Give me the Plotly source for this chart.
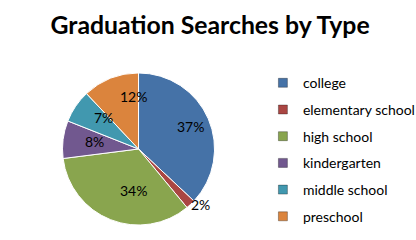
import math
import plotly.graph_objects as go

categories = ["college", "elementary school", "high school", "kindergarten", "middle school", "preschool"]
values = [37, 2, 34, 8, 7, 12]
colors = ["#4572A7", "#AA4643", "#89A54E", "#71588F", "#4198AF", "#DB843D"]
label_outside = [False, True, False, False, False, False]

W, H = 416, 240
dom_x = [0.150, 0.516]
dom_y = [0.0625, 0.696]

fig = go.Figure()
fig.add_trace(go.Pie(
    labels=categories, values=values, sort=False, direction="clockwise", rotation=0,
    marker=dict(colors=colors, line=dict(color="white", width=1)),
    textinfo="none", hoverinfo="label+percent",
    showlegend=False,
    domain=dict(x=dom_x, y=dom_y),
))
for c, col in zip(categories, colors):
    fig.add_trace(go.Scatter(
        x=[None], y=[None], mode="markers", name=c, legendgroup=c,
        marker=dict(symbol="square", size=9, color=col, line=dict(color="rgba(0,0,0,0.3)", width=1)),
    ))

# percentage labels placed along each slice's mid-angle
cx = (dom_x[0] + dom_x[1]) / 2
cy = (dom_y[0] + dom_y[1]) / 2
r_px = min((dom_x[1] - dom_x[0]) * W, (dom_y[1] - dom_y[0]) * H) / 2
total = sum(values)
cum = 0
annotations = []
for v, out in zip(values, label_outside):
    theta = 2 * math.pi * (cum + v / 2) / total
    cum += v
    f = 1.2 if out else 0.74
    annotations.append(dict(
        x=cx + f * r_px * math.sin(theta) / W,
        y=cy + f * r_px * math.cos(theta) / H,
        xref="paper", yref="paper", showarrow=False,
        text=f"{round(100 * v / total)}%",
        font=dict(family="Lato", size=14, color="black"),
    ))

fig.update_layout(
    width=W, height=H,
    margin=dict(l=0, r=0, t=0, b=0, autoexpand=False),
    paper_bgcolor="white", plot_bgcolor="white",
    title=dict(text="<b>Graduation Searches by Type</b>", x=0.505, xanchor="center", y=0.895, yanchor="middle",
               font=dict(family="Lato", size=24.8, color="black")),
    xaxis=dict(visible=False), yaxis=dict(visible=False),
    legend=dict(x=0.632, xanchor="left", y=0.72, yanchor="top",
                font=dict(family="Lato", size=14, color="black"),
                tracegroupgap=5.5, itemclick=False, itemwidth=30),
    annotations=annotations,
)
fig.write_html("out.html")
